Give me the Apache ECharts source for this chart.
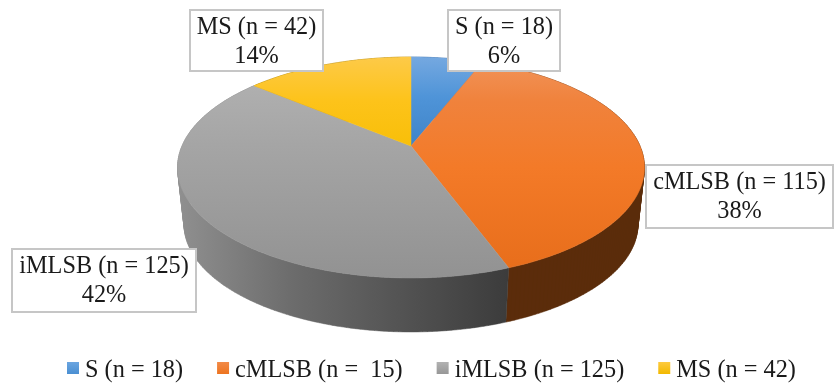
<!DOCTYPE html>
<html>
<head>
<meta charset="utf-8">
<style>html,body{margin:0;padding:0;background:#fff}#chart{width:837px;height:385px}</style>
<script src="https://cdn.jsdelivr.net/npm/echarts@6/dist/echarts.min.js"></script>
</head>
<body>
<div id="chart"></div>
<script>
// Resistance phenotypes, drawn clockwise from twelve o'clock
const legendNames = ['S (n = 18)', 'cMLSB (n =  15)', 'iMLSB (n = 125)', 'MS (n = 42)'];
const sliceCounts = [18, 115, 125, 42];
const labelNames = ['S (n = 18)', 'cMLSB (n = 115)', 'iMLSB (n = 125)', 'MS (n = 42)'];
const labelPercents = ['6%', '38%', '42%', '14%'];

// Tilted-disc projection: a unit circle seen in perspective
const disc = { cx: 411, cy: 146, rx: 229, ry: 106.3, k: 0.1946 };
const base = { cx: 411, cy: 203.7, rx: 222.6, ry: 103.3, k: 0.1946 };

function rim(p, deg) {
  const a = deg * Math.PI / 180;
  const u = Math.sin(a), v = -Math.cos(a), w = 1 - p.k * v;
  return [p.cx + p.rx * u / w, p.cy + p.ry * v / w];
}
function arc(p, from, to) {
  const pts = [], n = Math.max(2, Math.ceil(to - from));
  for (let i = 0; i <= n; i++) pts.push(rim(p, from + (to - from) * i / n));
  return pts;
}

// One path of same-wound quads between the rims, so the fill has no seams
function wallPath(top, bottom) {
  let d = '';
  for (let i = 0; i + 1 < top.length; i++) {
    let quad = [top[i], top[i + 1], bottom[i + 1], bottom[i]];
    let area = 0;
    quad.forEach((p, j) => {
      const q = quad[(j + 1) % 4];
      area += p[0] * q[1] - q[0] * p[1];
    });
    if (area < 0) quad = quad.reverse();
    d += 'M' + quad.map(p => p[0].toFixed(2) + ' ' + p[1].toFixed(2)).join('L') + 'Z';
  }
  return d;
}

const G = echarts.graphic.LinearGradient;
const vertical = stops => new G(0, 57, 0, 278, stops, true);
const stops = list => list.map(([offset, color]) => ({ offset, color }));
const topFill = [
  vertical(stops([[0, '#75a8e0'], [0.18, '#4f94d8'], [0.4, '#3f84c8'], [1, '#3f84c8']])),
  vertical(stops([[0, '#f1955c'], [0.2, '#f0823c'], [0.5, '#f37a28'], [1, '#e76d1a']])),
  vertical(stops([[0, '#b4b4b4'], [0.4, '#a5a5a5'], [1, '#929292']])),
  vertical(stops([[0, '#fdca48'], [0.2, '#fdc31a'], [0.5, '#f6bd00'], [1, '#e0ab00']]))
];
const sideFill = [
  '#2c5f95',
  '#5b2c0b',
  new G(177, 0, 507, 0, stops([[0, '#909090'], [0.35, '#6c6c6c'], [0.75, '#4e4e4e'], [1, '#3c3c3c']]), true),
  '#8a6a00'
];
const swatch = [
  new G(0, 0, 0, 1, stops([[0, '#6ba5e0'], [1, '#4a8fd2']])),
  new G(0, 0, 0, 1, stops([[0, '#f28a48'], [1, '#ed7420']])),
  new G(0, 0, 0, 1, stops([[0, '#b2b2b2'], [1, '#979797']])),
  new G(0, 0, 0, 1, stops([[0, '#fdca40'], [1, '#f2b800']]))
];

// Callout boxes: left, top, width, height
const boxes = [
  [448, 10, 112, 61],
  [646, 165, 187, 63],
  [12, 249, 184, 63],
  [190, 10, 133, 61]
];
const labelFont = '24.3px "Liberation Serif"';
const ink = '#1a1a1a';

const total = sliceCounts.reduce((a, b) => a + b, 0);
function startAngle(index) {
  let sum = 0;
  for (let i = 0; i < index; i++) sum += sliceCounts[i];
  return sum / total * 360;
}

function drawSlice(index, api) {
  const from = startAngle(index);
  const to = from + api.value(0) / total * 360;
  const top = arc(disc, from, to);
  const bottom = arc(base, from, to);
  const [x, y, w, h] = boxes[index];
  return {
    type: 'group',
    children: [
      { type: 'path', z2: 1, shape: { pathData: wallPath(top, bottom) },
        style: { fill: sideFill[index], stroke: sideFill[index], lineWidth: 0.5 } },
      { type: 'polygon', z2: 2, shape: { points: [[disc.cx, disc.cy]].concat(top) },
        style: { fill: topFill[index], stroke: topFill[index], lineWidth: 0.5 } },
      { type: 'rect', z2: 3, shape: { x, y, width: w, height: h },
        style: { fill: '#fff', stroke: '#c6c6c6', lineWidth: 2 } },
      { type: 'text', z2: 4, style: { text: labelNames[index], x: x + w / 2, y: y + 18,
        align: 'center', verticalAlign: 'middle', font: labelFont, fill: ink } },
      { type: 'text', z2: 4, style: { text: labelPercents[index], x: x + w / 2, y: y + 47,
        align: 'center', verticalAlign: 'middle', font: labelFont, fill: ink } }
    ]
  };
}

const chart = echarts.init(document.getElementById('chart'), null, { renderer: 'canvas' });
chart.setOption({
  backgroundColor: '#fff',
  animation: false,
  legend: {
    data: legendNames,
    left: 62,
    top: 354,
    icon: 'rect',
    itemWidth: 12,
    itemHeight: 12,
    itemGap: 34,
    selectedMode: false,
    formatter: name => '{t|' + name + '}',
    textStyle: {
      rich: {
        t: { fontFamily: 'Liberation Serif', fontSize: 24.3, color: ink, padding: [6, 0, 0, 1] }
      }
    }
  },
  series: legendNames.map((name, i) => ({
    type: 'custom',
    name,
    coordinateSystem: 'none',
    silent: true,
    itemStyle: { color: swatch[i] },
    data: [sliceCounts[i]],
    renderItem: (params, api) => drawSlice(i, api)
  }))
});
</script>
</body>
</html>
